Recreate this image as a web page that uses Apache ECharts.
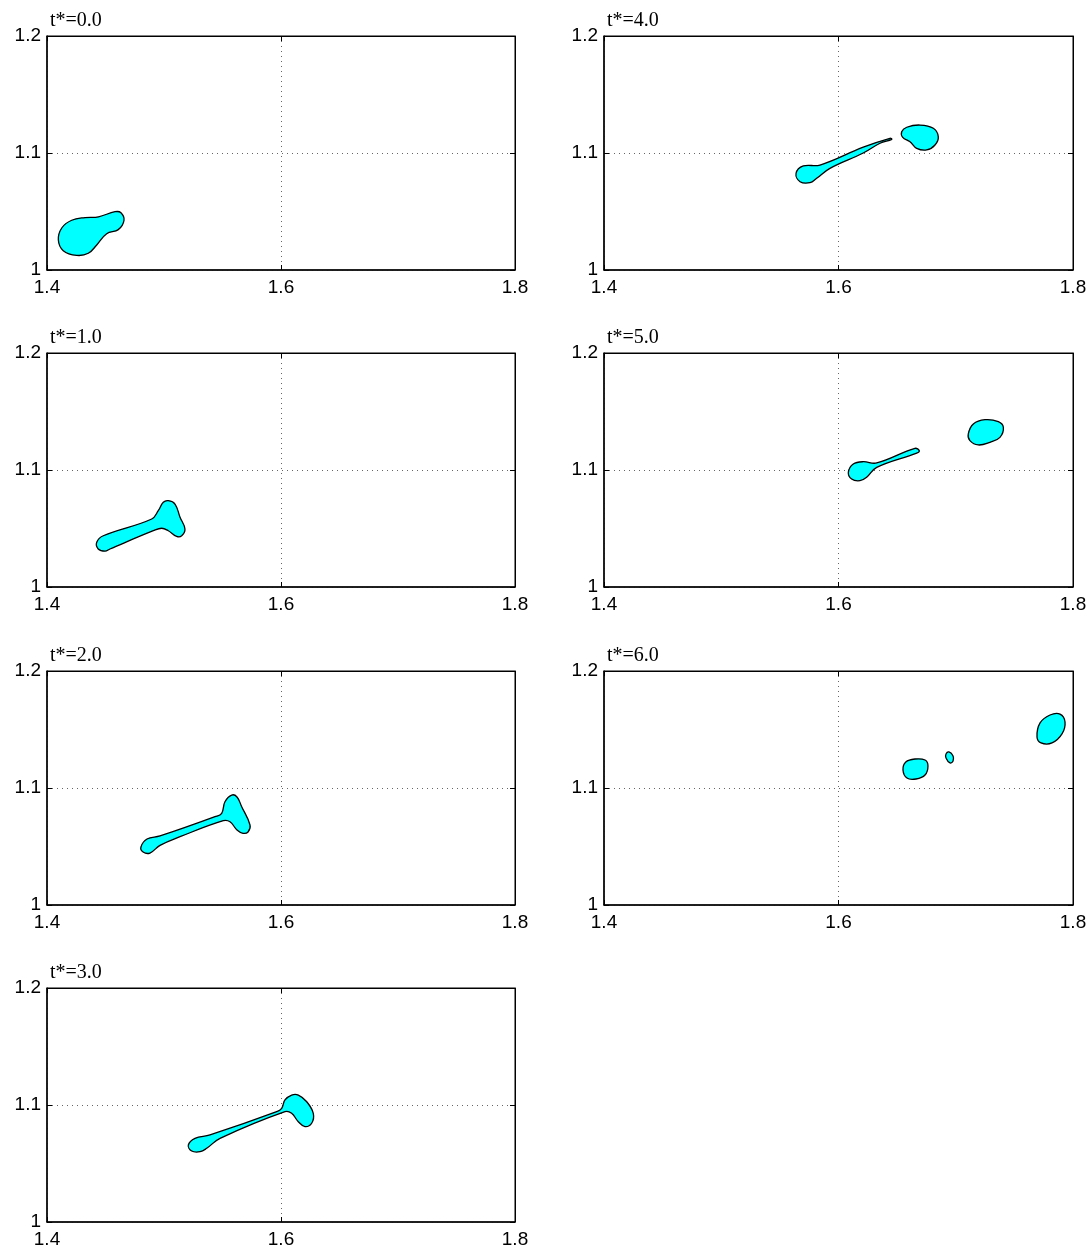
<!DOCTYPE html>
<html>
<head>
<meta charset="utf-8">
<script src="https://cdn.jsdelivr.net/npm/echarts@6/dist/echarts.min.js"></script>
<style>html,body{margin:0;padding:0;background:#fff}#c{width:1092px;height:1251px}</style>
</head>
<body>
<div id="c"></div>
<script>
// ---- data ----
const titles = ['t*=0.0', 't*=1.0', 't*=2.0', 't*=3.0', 't*=4.0', 't*=5.0', 't*=6.0'];
const xTickLabels = ['1.4', '1.6', '1.8'];
const yTickLabels = ['1', '1.1', '1.2'];
const xRange = [1.4, 1.8];
const yRange = [1.0, 1.2];

const blob_t0 = [[1.4097,1.0256],[1.4126,1.0359],[1.4211,1.0425],[1.4325,1.0448],[1.4440,1.0455],[1.4581,1.0498],[1.4632,1.0490],[1.4658,1.0425],[1.4609,1.0345],[1.4510,1.0310],[1.4425,1.0214],[1.4353,1.0143],[1.4254,1.0125],[1.4139,1.0165]];
const blob_t1 = [[1.4425,1.0382],[1.4481,1.0438],[1.4895,1.0581],[1.4951,1.0652],[1.4994,1.0724],[1.5037,1.0738],[1.5094,1.0709],[1.5137,1.0596],[1.5179,1.0496],[1.5151,1.0438],[1.5108,1.0433],[1.5037,1.0481],[1.4980,1.0502],[1.4909,1.0481],[1.4538,1.0325],[1.4496,1.0306],[1.4438,1.0325]];
const blob_t2 = [[1.4803,1.0496],[1.4855,1.0564],[1.4966,1.0590],[1.5436,1.0755],[1.5493,1.0784],[1.5521,1.0883],[1.5579,1.0940],[1.5624,1.0923],[1.5664,1.0840],[1.5735,1.0684],[1.5718,1.0624],[1.5675,1.0613],[1.5624,1.0641],[1.5564,1.0712],[1.5507,1.0721],[1.5137,1.0584],[1.4966,1.0510],[1.4880,1.0444],[1.4821,1.0453]];
const blob_t3 = [[1.5208,1.0658],[1.5265,1.0715],[1.5393,1.0744],[1.5963,1.0943],[1.6006,1.0972],[1.6034,1.1043],[1.6091,1.1085],[1.6148,1.1085],[1.6220,1.1028],[1.6276,1.0929],[1.6262,1.0844],[1.6205,1.0815],[1.6148,1.0857],[1.6091,1.0929],[1.6034,1.0943],[1.5479,1.0715],[1.5365,1.0630],[1.5308,1.0601],[1.5237,1.0607]];
const blob_t4a = [[1.5638,1.0826],[1.5700,1.0889],[1.5842,1.0897],[1.6211,1.1050],[1.6439,1.1126],[1.6454,1.1117],[1.6354,1.1083],[1.6211,1.1000],[1.5927,1.0869],[1.5814,1.0784],[1.5757,1.0746],[1.5672,1.0755]];
const blob_t4b = [[1.6539,1.1182],[1.6582,1.1220],[1.6695,1.1239],[1.6809,1.1211],[1.6851,1.1139],[1.6823,1.1068],[1.6752,1.1026],[1.6667,1.1040],[1.6610,1.1097],[1.6548,1.1134]];
const blob_t5a = [[1.6084,1.0980],[1.6126,1.1051],[1.6211,1.1071],[1.6326,1.1060],[1.6652,1.1185],[1.6689,1.1165],[1.6667,1.1145],[1.6326,1.1023],[1.6240,1.0938],[1.6183,1.0909],[1.6112,1.0923]];
const blob_t5b = [[1.7107,1.1308],[1.7150,1.1393],[1.7249,1.1430],[1.7363,1.1413],[1.7406,1.1365],[1.7377,1.1279],[1.7292,1.1237],[1.7192,1.1214],[1.7121,1.1251]];
const blob_t6a = [[1.6550,1.1154],[1.6574,1.1222],[1.6652,1.1248],[1.6738,1.1239],[1.6763,1.1188],[1.6738,1.1111],[1.6661,1.1077],[1.6584,1.1085]];
const blob_t6b = [[1.6917,1.1291],[1.6942,1.1308],[1.6977,1.1274],[1.6977,1.1231],[1.6951,1.1214],[1.6917,1.1257]];
const blob_t6c = [[1.7693,1.1436],[1.7719,1.1556],[1.7804,1.1624],[1.7889,1.1632],[1.7932,1.1564],[1.7906,1.1462],[1.7821,1.1385],[1.7727,1.1385]];

const panelBlobs = [
  [blob_t0], [blob_t1], [blob_t2], [blob_t3],
  [blob_t4a, blob_t4b], [blob_t5a, blob_t5b], [blob_t6a, blob_t6b, blob_t6c]
];

// ---- layout ----
const colLeft = [47, 604];
const colWidth = [468, 469];
const rowTop = [36, 353, 671, 988];
const plotH = 234;
const panelPos = [[0,0],[0,1],[0,2],[0,3],[1,0],[1,1],[1,2]];

const labelFont = { fontFamily: 'Liberation Sans, Arial, sans-serif', fontSize: 19, color: '#000' };
const grids = [], xAxes = [], yAxes = [], series = [], titleList = [];

panelPos.forEach(([col, row], i) => {
  grids.push({ left: colLeft[col], top: rowTop[row], width: colWidth[col], height: plotH,
    show: true, borderColor: '#000', borderWidth: 1, backgroundColor: '#fff' });
  const gx = { gridIndex: i, type: 'value', min: xRange[0], max: xRange[1], interval: 0.2 };
  const gy = { gridIndex: i, type: 'value', min: yRange[0], max: yRange[1], interval: 0.1 };
  xAxes.push(Object.assign({}, gx, {
    position: 'bottom',
    axisLine: { show: true, lineStyle: { color: '#000', width: 1.5 } },
    axisTick: { show: true, inside: true, length: 5, lineStyle: { color: '#000' } },
    axisLabel: Object.assign({ margin: 8, formatter: v => xTickLabels[Math.round((v - xRange[0]) / 0.2)] }, labelFont),
    splitLine: { show: true, lineStyle: { color: '#666', type: [1, 4], width: 1 } }
  }));
  xAxes.push(Object.assign({}, gx, {
    position: 'top',
    axisLine: { show: true, lineStyle: { color: '#000', width: 1 } },
    axisTick: { show: true, inside: true, length: 5, lineStyle: { color: '#000' } },
    axisLabel: { show: false }, splitLine: { show: false }
  }));
  yAxes.push(Object.assign({}, gy, {
    position: 'left',
    axisLine: { show: true, lineStyle: { color: '#000', width: 1.5 } },
    axisTick: { show: true, inside: true, length: 5, lineStyle: { color: '#000' } },
    axisLabel: Object.assign({ margin: 6, formatter: v => yTickLabels[Math.round((v - yRange[0]) / 0.1)] }, labelFont),
    splitLine: { show: true, lineStyle: { color: '#666', type: [1, 4], width: 1 } }
  }));
  yAxes.push(Object.assign({}, gy, {
    position: 'right',
    axisLine: { show: true, lineStyle: { color: '#000', width: 1 } },
    axisTick: { show: true, inside: true, length: 5, lineStyle: { color: '#000' } },
    axisLabel: { show: false }, splitLine: { show: false }
  }));
  titleList.push({ text: titles[i], left: colLeft[col] + 3, top: rowTop[row] - 25, padding: 0,
    textStyle: { fontFamily: 'Liberation Serif, Times New Roman, serif', fontSize: 20, fontWeight: 'normal', color: '#000' } });

  panelBlobs[i].forEach(blob => {
    series.push({
      type: 'custom',
      xAxisIndex: 2 * i, yAxisIndex: 2 * i,
      data: blob,
      silent: true,
      renderItem: (params, api) => {
        if (params.dataIndex !== 0) return null;
        const pts = blob.map(p => api.coord(p));
        return { type: 'polygon', shape: { points: pts, smooth: 0.4 },
          style: { fill: '#00FFFF', stroke: '#000', lineWidth: 1.3 } };
      }
    });
  });
});

const chart = echarts.init(document.getElementById('c'), null, { renderer: 'canvas' });
chart.setOption({
  animation: false,
  backgroundColor: '#fff',
  title: titleList,
  grid: grids,
  xAxis: xAxes,
  yAxis: yAxes,
  series: series
});
</script>
</body>
</html>
